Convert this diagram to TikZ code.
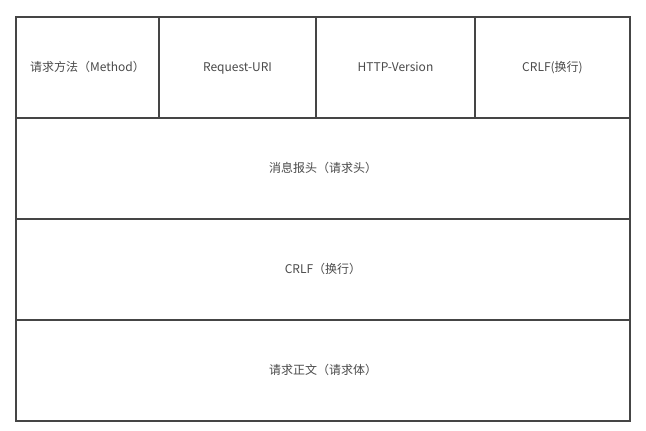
\documentclass[tikz,border=0pt]{standalone}
\usepackage{fontspec}
\setmainfont{Noto Sans CJK SC}
\usetikzlibrary{positioning}
\definecolor{edge}{HTML}{454545}
\definecolor{label}{HTML}{4A4A4A}

\begin{document}
\begin{tikzpicture}[
  x=1pt, y=-1pt,
  field/.style={draw=edge, line width=1.6pt, outer sep=0pt, inner sep=0pt,
    minimum height=101pt, minimum width=#1, text height=0.88em, text depth=0.12em,
    font=\fontsize{12}{14}\selectfont, text=label},
  field/.default=614pt
]
  \useasboundingbox[fill=white] (0,0) rectangle (646,431);

  % Request line
  \node[field=143pt, anchor=north west] (method) at (16,17) {请求方法（Method）};
  \node[field=157pt, right=0pt of method] (uri) {Request-URI};
  \node[field=159pt, right=0pt of uri] (version) {HTTP-Version};
  \node[field=155pt, right=0pt of version] (crlfa) {CRLF(换行)};

  % Headers, blank line, body
  \node[field, anchor=north west] (header) at (method.south west) {消息报头（请求头）};
  \node[field, below=0pt of header] (crlfb) {CRLF（换行）};
  \node[field, below=0pt of crlfb] (body) {请求正文（请求体）};
\end{tikzpicture}
\end{document}
